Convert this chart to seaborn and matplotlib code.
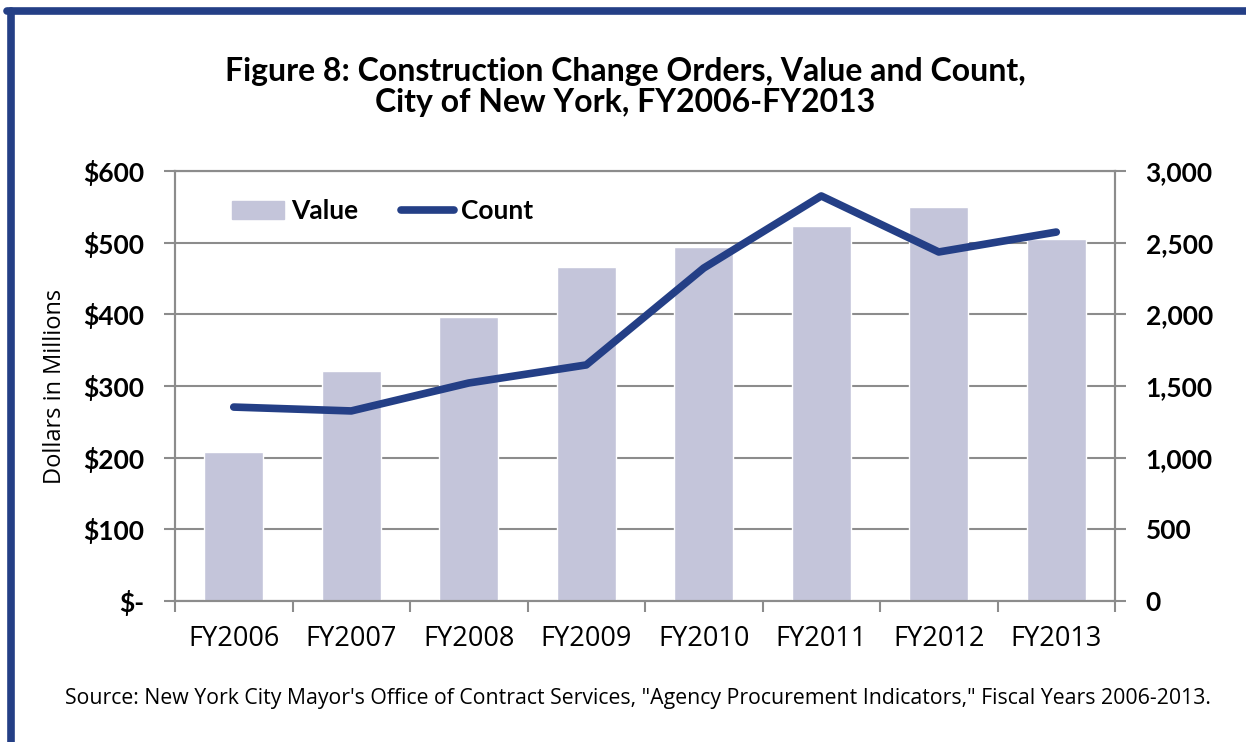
import numpy as np
import pandas as pd
import matplotlib
matplotlib.use('Agg')
import matplotlib.pyplot as plt
from matplotlib.lines import Line2D
import seaborn as sns

# dados
years = ['FY2006', 'FY2007', 'FY2008', 'FY2009', 'FY2010', 'FY2011', 'FY2012', 'FY2013']
value_millions = [208, 321, 396, 466, 494, 523, 550, 505]
change_order_count = [1353, 1326, 1521, 1647, 2323, 2826, 2435, 2574]

left_ticks = [0, 100, 200, 300, 400, 500, 600]
left_labels = ['$-', '$100', '$200', '$300', '$400', '$500', '$600']
right_ticks = [0, 500, 1000, 1500, 2000, 2500, 3000]
right_labels = ['0', '500', '1,000', '1,500', '2,000', '2,500', '3,000']

df = pd.DataFrame({'year': years, 'value': value_millions, 'count': change_order_count})

bar_color = '#c4c5da'
line_color = '#243f86'
grid_color = '#8c8c8c'

sns.set_style('white')
plt.rcParams['font.family'] = ['Lato', 'DejaVu Sans']
plt.rcParams['text.color'] = 'black'
plt.rcParams['xtick.color'] = 'black'
plt.rcParams['ytick.color'] = 'black'
plt.rcParams['axes.labelcolor'] = 'black'

fig = plt.figure(figsize=(12.46, 7.42), dpi=100)
ax = fig.add_axes([175 / 1246, 141 / 742, 940 / 1246, 430 / 742])

sns.barplot(data=df, x='year', y='value', color=bar_color, width=0.5,
            saturation=1, ax=ax, zorder=2)
ax.set_ylim(0, 600)
ax.set_xlim(-0.5, 7.5)
ax.set_yticks(left_ticks)
ax.set_yticklabels(left_labels, fontsize=19, fontweight='bold')
ax.grid(axis='y', color=grid_color, linewidth=1.5, zorder=0)
ax.set_axisbelow(True)
ax.set_xlabel('')
ax.set_ylabel('Dollars in Millions', fontsize=17, labelpad=12,
              family=['Open Sans', 'DejaVu Sans'])
ax.tick_params(axis='y', length=8, width=1.5, color=grid_color, labelcolor='black',
               pad=14, direction='out', left=True)
ax.set_xticks(range(len(years)))
ax.set_xticklabels(years, fontsize=19.5, family=['Open Sans', 'DejaVu Sans'])
ax.tick_params(axis='x', which='major', length=0, pad=17, labelcolor='black')
ax.set_xticks(np.arange(-0.5, 8, 1), minor=True)
ax.tick_params(axis='x', which='minor', length=8, width=1.5, color=grid_color, bottom=True)
for s in ax.spines.values():
    s.set_color(grid_color)
    s.set_linewidth(1.5)

ax2 = ax.twinx()
sns.lineplot(data=df, x='year', y='count', color=line_color, linewidth=5.5,
             solid_capstyle='round', ax=ax2, legend=False)
ax2.set_ylim(0, 3000)
ax2.set_yticks(right_ticks)
ax2.set_yticklabels(right_labels, fontsize=19, fontweight='bold')
ax2.set_ylabel('')
ax2.tick_params(axis='y', length=8, width=1.5, color=grid_color, labelcolor='black',
                pad=14, direction='out', right=True)
ax2.grid(False)
for s in ax2.spines.values():
    s.set_color(grid_color)
    s.set_linewidth(1.5)

handles = [plt.Rectangle((0, 0), 1, 1, color=bar_color),
           Line2D([0], [0], color=line_color, linewidth=5.5, solid_capstyle='round')]
leg = ax2.legend(handles, ['Value', 'Count'], loc='center left', bbox_to_anchor=(0.035, 0.907),
                 ncol=2, frameon=False, handlelength=2.0, handletextpad=0.27,
                 columnspacing=1.6, prop={'size': 19, 'weight': 'bold'})

fig.text(0.502, 0.883, 'Figure 8: Construction Change Orders, Value and Count,\nCity of New York, FY2006-FY2013',
         ha='center', va='center', fontsize=23, fontweight='bold', linespacing=1.1)
fig.text(0.512, 0.058, 'Source: New York City Mayor\'s Office of Contract Services, "Agency Procurement Indicators," Fiscal Years 2006-2013.',
         ha='center', va='center', fontsize=15.3, family=['Open Sans', 'DejaVu Sans'])

# moldura azul (só esquerda e topo aparecem)
fig.add_artist(Line2D([10.5 / 1246, 10.5 / 1246], [0, 1 - 10.5 / 742], color=line_color, linewidth=5.5))
fig.add_artist(Line2D([7 / 1246, 1], [1 - 10.5 / 742, 1 - 10.5 / 742], color=line_color, linewidth=5.5))

fig.savefig('out.png', dpi=100)
